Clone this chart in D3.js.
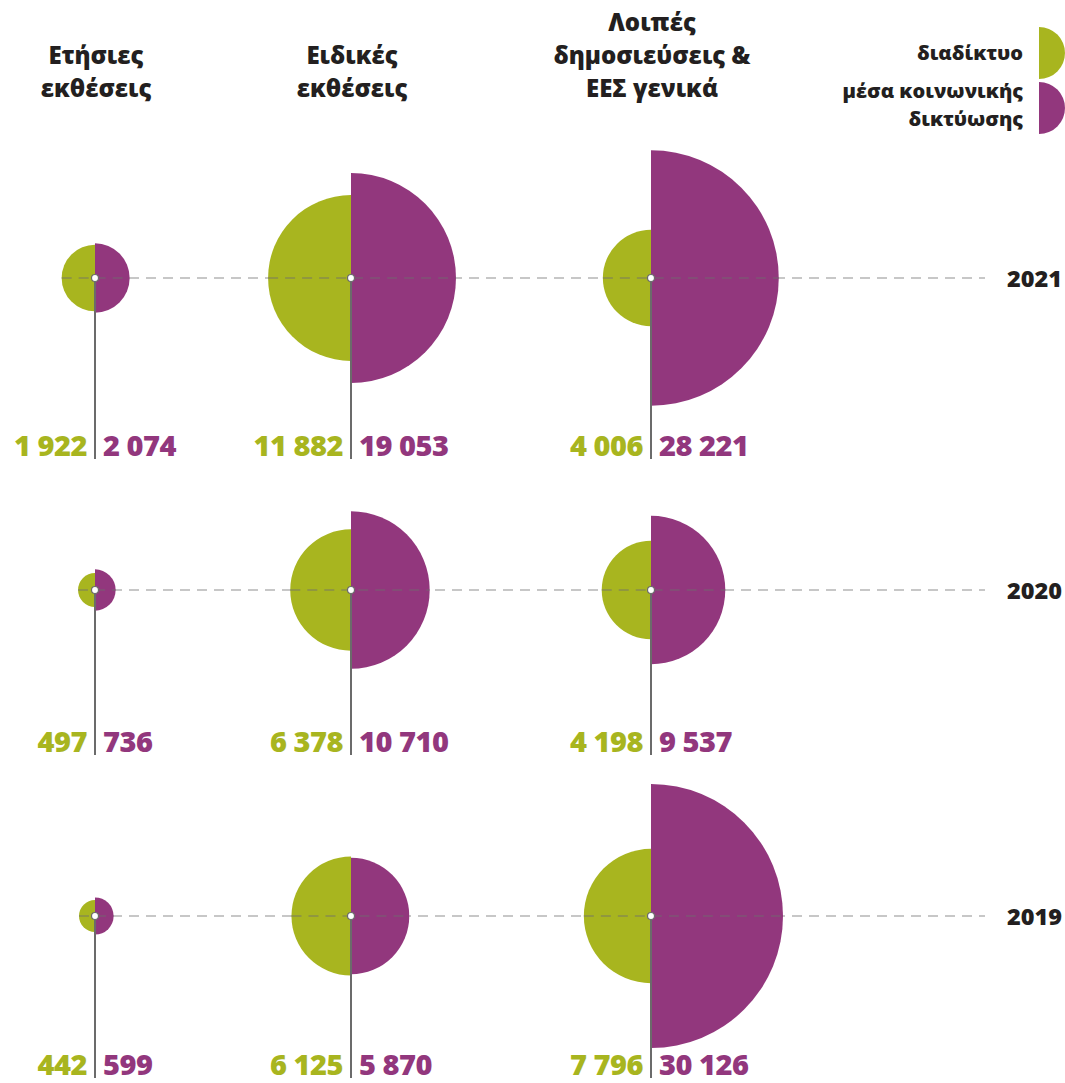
<!DOCTYPE html>
<html lang="el">
<head>
  <meta charset="UTF-8">
  <title>Chart</title>
  <style>
    body { margin: 0; background: #fff; }
    svg { display: block; font-family: "Open Sans", sans-serif; }
  </style>
</head>
<body>
  <script src="https://d3js.org/d3.v7.min.js"></script>
  <script>
    // data
    const categories = [
      ['Ετήσιες', 'εκθέσεις'],
      ['Ειδικές', 'εκθέσεις'],
      ['Λοιπές', 'δημοσιεύσεις &', 'ΕΕΣ γενικά']
    ]
    const years = ['2021', '2020', '2019']
    const seriesNames = ['διαδίκτυο', 'μέσα κοινωνικής δικτύωσης']
    // [year][category]
    const internet = [
      [1922, 11882, 4006],
      [497, 6378, 4198],
      [442, 6125, 7796]
    ]
    const social = [
      [2074, 19053, 28221],
      [736, 10710, 9537],
      [599, 5870, 30126]
    ]

    const width = 1065
    const height = 1083
    const green = '#a8b51f'
    const purple = '#92377d'
    const ink = '#231f20'

    const svg = d3.select('body').append('svg')
      .attr('width', width)
      .attr('height', height)

    const x = d3.scaleOrdinal().domain([0, 1, 2]).range([95, 351, 651])
    const y = d3.scaleOrdinal().domain(years).range([278, 590, 916])
    const labelY = d3.scaleOrdinal().domain(years).range([456, 752, 1075])

    const allVals = internet.flat().concat(social.flat())
    const r = d3.scaleSqrt().domain([0, d3.max(allVals)]).range([0, 132])

    const fmt = v => d3.format(',')(v).replace(/,/g, ' ')

    // column headers
    categories.forEach((lines, i) => {
      const top = lines.length === 3 ? 31 : 64
      svg.append('text')
        .attr('x', x(i) + 1)
        .attr('y', top)
        .attr('text-anchor', 'middle')
        .attr('font-size', 24)
        .attr('font-weight', 800)
        .attr('fill', ink)
        .selectAll('tspan')
        .data(lines)
        .join('tspan')
        .attr('x', x(i) + 1)
        .attr('dy', (d, j) => j === 0 ? 0 : 33)
        .text(d => d)
    })

    // legend
    const arcL = d3.arc().innerRadius(0).outerRadius(26)
    const lg = svg.append('g')
    lg.append('path')
      .attr('transform', 'translate(1039,53)')
      .attr('d', arcL({ startAngle: 0, endAngle: Math.PI }))
      .attr('fill', green)
    lg.append('path')
      .attr('transform', 'translate(1039,108)')
      .attr('d', arcL({ startAngle: 0, endAngle: Math.PI }))
      .attr('fill', purple)
    lg.append('text')
      .attr('x', 1023).attr('y', 60)
      .attr('text-anchor', 'end').attr('font-size', 20).attr('font-weight', 800).attr('fill', ink)
      .text(seriesNames[0])
    lg.append('text')
      .attr('x', 1023).attr('y', 98)
      .attr('text-anchor', 'end').attr('font-size', 20).attr('font-weight', 800).attr('fill', ink)
      .selectAll('tspan')
      .data(['μέσα κοινωνικής', 'δικτύωσης'])
      .join('tspan')
      .attr('x', 1023)
      .attr('dy', (d, j) => j === 0 ? 0 : 28)
      .text(d => d)

    const arc = d3.arc().innerRadius(0)

    years.forEach((yr, yi) => {
      const cy = y(yr)
      const g = svg.append('g')

      // dashed guide line
      g.append('line')
        .attr('x1', x(0)).attr('x2', 985)
        .attr('y1', cy).attr('y2', cy)
        .attr('stroke', '#b5b5b5')
        .attr('stroke-width', 1.5)
        .attr('stroke-dasharray', '10,7')

      // year label
      g.append('text')
        .attr('x', 1062).attr('y', cy + 9)
        .attr('text-anchor', 'end')
        .attr('font-size', 23.5).attr('font-weight', 800).attr('fill', ink)
        .text(yr)

      categories.forEach((c, ci) => {
        const cx = x(ci)
        const gi = internet[yi][ci]
        const so = social[yi][ci]

        g.append('path')
          .attr('transform', `translate(${cx},${cy})`)
          .attr('d', arc.outerRadius(r(gi))({ startAngle: Math.PI, endAngle: 2 * Math.PI }))
          .attr('fill', green)
        g.append('path')
          .attr('transform', `translate(${cx},${cy})`)
          .attr('d', arc.outerRadius(r(so))({ startAngle: 0, endAngle: Math.PI }))
          .attr('fill', purple)
        // the half-circles cover part of the dashed line; redraw it faint on top
        g.append('line')
          .attr('x1', cx - r(gi)).attr('x2', cx + r(so))
          .attr('y1', cy).attr('y2', cy)
          .attr('stroke', '#6e6e6e')
          .attr('stroke-opacity', 0.55)
          .attr('stroke-width', 1.5)
          .attr('stroke-dasharray', '10,7')

        g.append('line')
          .attr('x1', cx).attr('x2', cx)
          .attr('y1', cy).attr('y2', labelY(yr) + 3)
          .attr('stroke', '#6b6b6b')
          .attr('stroke-width', 2)

        g.append('circle')
          .attr('cx', cx).attr('cy', cy).attr('r', 3.5)
          .attr('fill', '#fff')
          .attr('stroke', '#6b6b6b')
          .attr('stroke-width', 1.2)

        g.append('text')
          .attr('x', cx - 8).attr('y', labelY(yr))
          .attr('text-anchor', 'end')
          .attr('font-size', 29).attr('font-weight', 800).attr('fill', green)
          .attr('letter-spacing', -0.5)
          .text(fmt(gi))
        g.append('text')
          .attr('x', cx + 8).attr('y', labelY(yr))
          .attr('text-anchor', 'start')
          .attr('font-size', 29).attr('font-weight', 800).attr('fill', purple)
          .attr('letter-spacing', -0.5)
          .text(fmt(so))
      })
    })
  </script>
</body>
</html>
